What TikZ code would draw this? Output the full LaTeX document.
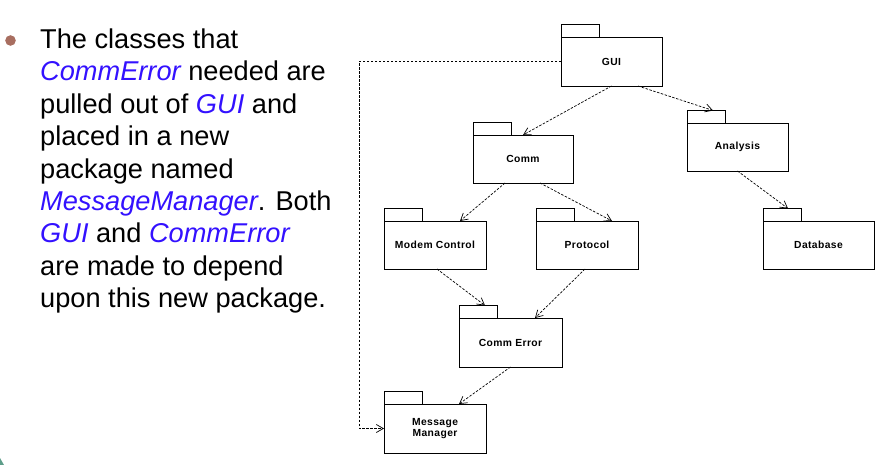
\documentclass[tikz,border=0pt]{standalone}
\usepackage{fontspec}
\setmainfont{Liberation Sans}
\newfontfamily\lblfont[LetterSpace=4]{Liberation Sans}
\usetikzlibrary{arrows.meta,calc}
\definecolor{txtblue}{HTML}{3311FF}
\definecolor{bulletc}{HTML}{A86E60}
\definecolor{cornerc}{HTML}{5E9E8A}
\newcommand{\hl}[1]{{\color{txtblue}\itshape #1}}
\begin{document}
\begin{tikzpicture}[x=1pt,y=-1pt,
  pkg/.style={draw=black,line width=0.9pt,inner sep=0pt,outer sep=0pt,
    minimum width=102pt,minimum height=49pt,align=center,
    font=\lblfont\bfseries\fontsize{10.3}{11}\selectfont},
  tabbox/.style={draw=black,line width=0.9pt},
  dep/.style={draw=black,line width=0.7pt,dash pattern=on 2.5pt off 1.5pt,
    -{Straight Barb[length=7pt,width=8pt,line width=0.7pt]}},
  line/.style={anchor=base west,inner sep=0pt,font=\fontsize{27.2}{32}\selectfont}]
\useasboundingbox (0,0) rectangle (875,465);
\fill[white] (0,0) rectangle (875,465);
% corner decoration
\fill[cornerc] (0,465) -- (0,458) .. controls (2,461) .. (4,465) -- cycle;
% bullet text
\fill[bulletc] (10.5,40.5) circle (5.3);
\node[line] (l1) at (40,48.5) {The classes that};
\node[line] (l2) at (40,80.9) {\hl{CommError} needed are};
\node[line] (l3) at (40,113.3) {pulled out of \hl{GUI} and};
\node[line] (l4) at (40,145.7) {placed in a new};
\node[line] (l5) at (40,178.1) {package named};
\node[line] (l6) at (40,210.5) {\hl{MessageManager}. Both};
\node[line] (l7) at (40,242.9) {\hl{GUI} and \hl{CommError}};
\node[line] (l8) at (40,275.3) {are made to depend};
\node[line] (l9) at (40,307.7) {upon this new package.};
% packages
\node[pkg,minimum width=101pt] (gui) at (611.5,61.5) {GUI};
\node[pkg,minimum width=100pt,minimum height=48pt] (comm) at (523,159) {Comm};
\node[pkg,minimum width=101pt,minimum height=48pt] (analysis) at (737.5,147) {Analysis};
\node[pkg,minimum width=111pt,minimum height=48pt] (db) at (818.5,245) {Database};
\node[pkg,minimum height=48pt] (modem) at (435,245) {Modem Control};
\node[pkg,minimum height=48pt] (protocol) at (587,245) {Protocol};
\node[pkg,minimum width=103pt] (commerr) at (510.5,342.5) {Comm Error};
\node[pkg] (mm) at (435,428.5) {Message\\Manager};
\foreach \n in {gui,comm,analysis,db,modem,protocol,commerr,mm}
  \draw[tabbox] (\n.north west) rectangle ++(38,-12.5);
% dependencies
\coordinate (cl) at (359,0);
\draw[dep] (gui.south) -- (comm.north);
\draw[dep] ($(gui.south west)+(77,0)$) -- ($(analysis.north west)+(26,-12.5)$);
\draw[dep] ($(comm.south west)+(32,0)$) -- ($(modem.north west)+(76,0)$);
\draw[dep] ($(comm.south west)+(67,0)$) -- ($(protocol.north west)+(76,0)$);
\draw[dep] ($(modem.south)+(2,0)$) -- ($(commerr.north west)+(26,-12.5)$);
\draw[dep] ($(protocol.south)+(-2,0)$) -- ($(commerr.north west)+(76,0)$);
\draw[dep] (commerr.south) -- ($(mm.north west)+(75,0)$);
\draw[dep] (analysis.south) -- ($(db.north west)+(25,-12.5)$);
\draw[dep] (gui.west) -- (gui.west -| cl) -- (cl |- mm.west) -- (mm.west);
\end{tikzpicture}
\end{document}
